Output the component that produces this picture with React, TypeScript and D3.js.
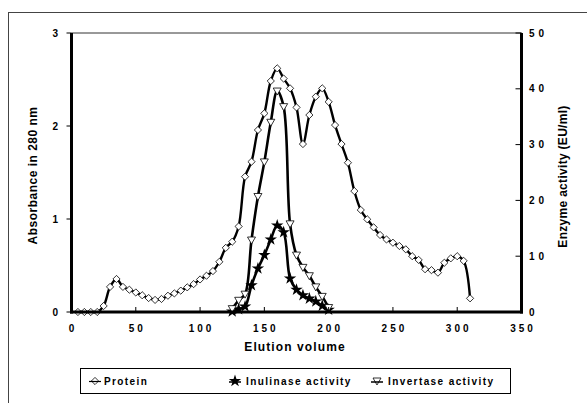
import React from "react";
import * as d3 from "d3";

// Elution volume (ml) of each fraction
const proteinVol = d3.range(5, 315, 5);
const proteinAbs = [
  0, 0, 0, 0, 0.065, 0.27, 0.355, 0.27, 0.24, 0.21, 0.18, 0.15, 0.13, 0.14, 0.175, 0.2,
  0.23, 0.265, 0.3, 0.35, 0.39, 0.44, 0.54, 0.69, 0.756, 0.92, 1.455, 1.616, 1.957, 2.136,
  2.484, 2.62, 2.51, 2.405, 2.2, 1.806, 2.118, 2.315, 2.405, 2.26, 2.01, 1.806, 1.605, 1.3,
  1.097, 0.997, 0.91, 0.828, 0.78, 0.745, 0.71, 0.674, 0.6, 0.56, 0.46, 0.45, 0.423, 0.53,
  0.577, 0.6, 0.55, 0.147,
];

const enzymeVol = [125, 130, 135, 140, 145, 150, 155, 160, 165, 170, 175, 180, 185, 190, 195, 200];
const inulinase = [0.1, 0.5, 1.0, 4.8, 7.8, 10.2, 13.0, 15.5, 14.3, 6.0, 4.0, 3.0, 2.4, 1.9, 1.1, 0.4];
const invertase = [0.6, 2.1, 3.2, 12.9, 20.7, 26.9, 34.0, 39.6, 36.8, 15.8, 10.2, 8.0, 6.5, 4.5, 2.8, 0.8];

const xTicks = [0, 50, 100, 150, 200, 250, 300, 350];
const leftTicks = [0, 1, 2, 3];
const rightTicks = [0, 10, 20, 30, 40, 50];

const FONT = "'Liberation Sans', Arial, sans-serif";

const diamond = (r: number) => `M0,${-r}L${r},0L0,${r}L${-r},0Z`;
const triDown = (r: number) => `M${-r},${-r * 0.75}L${r},${-r * 0.75}L0,${r}Z`;
const star = d3.symbol(d3.symbolStar, 48)() as string;

export default function App() {
  const left = 71.5;
  const right = 521.5;
  const top = 33;
  const bottom = 312;

  const x = d3.scaleLinear().domain([0, 350]).range([left, right]);
  const yL = d3.scaleLinear().domain([0, 3]).range([bottom, top]);
  const yR = d3.scaleLinear().domain([0, 50]).range([bottom, top]);

  const protein = proteinVol.map((v, i) => [v, proteinAbs[i]] as [number, number]);
  const inu = enzymeVol.map((v, i) => [v, inulinase[i]] as [number, number]);
  const inv = enzymeVol.map((v, i) => [v, invertase[i]] as [number, number]);

  const lineL = d3
    .line<[number, number]>()
    .x((d) => x(d[0]))
    .y((d) => yL(d[1]))
    .curve(d3.curveCatmullRom.alpha(0.5));
  const lineR = d3
    .line<[number, number]>()
    .x((d) => x(d[0]))
    .y((d) => yR(d[1]))
    .curve(d3.curveCatmullRom.alpha(0.5));

  const legendY = 381;

  return (
    <svg
      width={587}
      height={403}
      style={{ position: "absolute", left: 0, top: 0, background: "#fff" }}
      fontFamily={FONT}
    >
      {/* outer chart frame (cropped) */}
      <line x1={8} y1={12.5} x2={587} y2={12.5} stroke="#444" strokeWidth={1} />
      <line x1={8.5} y1={12} x2={8.5} y2={403} stroke="#444" strokeWidth={1} />

      {/* plot top border */}
      <line x1={left} y1={top} x2={right} y2={top} stroke="#333" strokeWidth={1} />

      {/* series */}
      <path d={lineL(protein) ?? ""} fill="none" stroke="#000" strokeWidth={2.4} />
      <path d={lineR(inu) ?? ""} fill="none" stroke="#000" strokeWidth={2.6} />
      <path d={lineR(inv) ?? ""} fill="none" stroke="#000" strokeWidth={2.6} />

      {protein.map((d, i) => (
        <path
          key={"p" + i}
          d={diamond(3.6)}
          transform={`translate(${x(d[0])},${yL(d[1])})`}
          fill="#fff"
          stroke="#000"
          strokeWidth={0.8}
        />
      ))}
      {inu.map((d, i) => (
        <path key={"s" + i} d={star} transform={`translate(${x(d[0])},${yR(d[1])})`} fill="#000" />
      ))}
      {inv.map((d, i) => (
        <path
          key={"t" + i}
          d={triDown(4)}
          transform={`translate(${x(d[0])},${yR(d[1])})`}
          fill="#fff"
          stroke="#000"
          strokeWidth={0.8}
        />
      ))}

      {/* axes */}
      <line x1={left} y1={top} x2={left} y2={bottom + 1.5} stroke="#000" strokeWidth={3} />
      <line x1={right} y1={top} x2={right} y2={bottom + 1.5} stroke="#000" strokeWidth={3} />
      <line x1={left - 1.5} y1={bottom} x2={right + 1.5} y2={bottom} stroke="#000" strokeWidth={3} />

      {xTicks.map((t) => (
        <g key={"x" + t}>
          <line x1={x(t)} x2={x(t)} y1={bottom} y2={bottom - 5} stroke="#000" strokeWidth={1} />
          <text
            x={x(t) + 1.5}
            y={332}
            textAnchor="middle"
            fontSize={10}
            fontWeight="bold"
            letterSpacing={3}
          >
            {t}
          </text>
        </g>
      ))}
      {leftTicks.map((t) => (
        <g key={"l" + t}>
          <line x1={left - 5} x2={left} y1={yL(t)} y2={yL(t)} stroke="#000" strokeWidth={1} />
          <text x={58} y={yL(t) + 3.5} textAnchor="end" fontSize={10} fontWeight="bold">
            {t}
          </text>
        </g>
      ))}
      {rightTicks.map((t) => (
        <g key={"r" + t}>
          <line x1={right - 6} x2={right} y1={yR(t)} y2={yR(t)} stroke="#000" strokeWidth={1} />
          <text x={529} y={yR(t) + 3.5} fontSize={10} fontWeight="bold" letterSpacing={4}>
            {t}
          </text>
        </g>
      ))}

      {/* axis titles */}
      <text
        transform={`translate(37,${(top + bottom) / 2 + 3}) rotate(-90)`}
        textAnchor="middle"
        fontSize={12}
        fontWeight="bold"
        letterSpacing={0.5}
      >
        Absorbance in 280 nm
      </text>
      <text
        transform={`translate(567,${(top + bottom) / 2 + 4}) rotate(-90)`}
        textAnchor="middle"
        fontSize={12}
        fontWeight="bold"
        letterSpacing={0.3}
      >
        Enzyme activity (EU/ml)
      </text>
      <text x={295} y={351} textAnchor="middle" fontSize={12} fontWeight="bold" letterSpacing={1.1}>
        Elution volume
      </text>

      {/* legend */}
      <rect x={80.5} y={368.5} width={430} height={25} fill="#fff" stroke="#000" strokeWidth={1} />
      <g>
        <path d={diamond(3.6)} transform={`translate(95,${legendY})`} fill="#fff" stroke="#000" strokeWidth={0.8} />
        <line x1={89} x2={101} y1={legendY + 0.5} y2={legendY + 0.5} stroke="#000" strokeWidth={1.2} />
        <text x={104} y={legendY + 3.5} fontSize={10} fontWeight="bold" letterSpacing={1.4}>
          Protein
        </text>
      </g>
      <g>
        <line x1={229} x2={241} y1={legendY + 1} y2={legendY + 1} stroke="#000" strokeWidth={1.5} />
        <path d={star} transform={`translate(235,${legendY})`} fill="#000" />
        <text x={246} y={legendY + 3.5} fontSize={10} fontWeight="bold" letterSpacing={1.4}>
          Inulinase activity
        </text>
      </g>
      <g>
        <path d={triDown(4)} transform={`translate(377,${legendY})`} fill="#fff" stroke="#000" strokeWidth={0.8} />
        <line x1={371} x2={383} y1={legendY + 1} y2={legendY + 1} stroke="#000" strokeWidth={1.5} />
        <text x={388} y={legendY + 3.5} fontSize={10} fontWeight="bold" letterSpacing={1.4}>
          Invertase activity
        </text>
      </g>
    </svg>
  );
}
